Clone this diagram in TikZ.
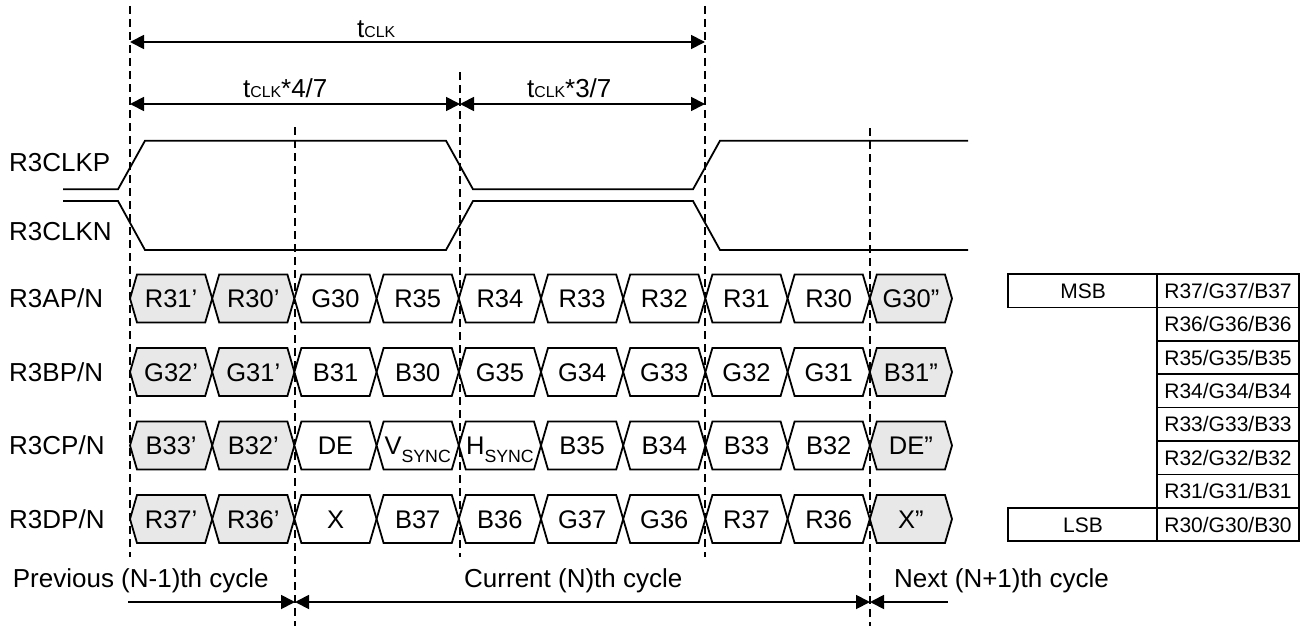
\documentclass[tikz,border=0pt]{standalone}
\usepackage{fontspec}
\setmainfont{Liberation Sans}
\usetikzlibrary{arrows.meta}
\definecolor{cellgrey}{RGB}{232,232,232}
\newcommand\subsz{\fontsize{15.8}{18}\selectfont}
\newcommand\syncsub{\raisebox{-7.6pt}{\fontsize{17.7}{20}\selectfont SYNC}}
\newcommand\drawrow[3]{% #1 row name, #2 centre y, #3 list of texts
  \foreach \t [count=\k from 0] in {#3} {
    \pgfmathsetmacro\xa{130+82.2*\k}
    \pgfmathsetmacro\xb{\xa+82.2}
    \pgfmathsetmacro\xc{\xa+41.1}
    \ifnum\k<2 \def\fc{cellgrey}\else\ifnum\k=9 \def\fc{cellgrey}\else\def\fc{white}\fi\fi
    \draw[cellsty, fill=\fc] (\xa,#2) -- (\xa+7,#2-24) -- (\xb-7,#2-24) -- (\xb,#2)
      -- (\xb-7,#2+24) -- (\xa+7,#2+24) -- cycle;
    \node[celltxt] (c#1\k) at (\xc,#2+9.3) {\t};
  }}
\begin{document}
\begin{tikzpicture}[x=1pt,y=-1pt,
  lbl/.style={font=\fontsize{26}{30}\selectfont, inner sep=0pt, anchor=base west},
  celltxt/.style={font=\fontsize{25.5}{30}\selectfont, inner sep=0pt, anchor=base},
  tbltxt/.style={font=\fontsize{21}{25}\selectfont, inner sep=0pt, anchor=base},
  sig/.style={line width=1.8pt, line join=miter},
  cellsty/.style={line width=1.8pt, line join=miter},
  vdash/.style={line width=1.8pt, dash pattern=on 8pt off 5pt},
  dimarrow/.style={line width=1.8pt},
  tip/.tip={Triangle[length=14pt,width=14pt]},
  tblline/.style={line width=1.5pt}
]
\useasboundingbox (0,0) rectangle (1311,626);

% dashed reference lines
\coordinate (v0t) at (130,6);   \coordinate (v0b) at (130,557);
\coordinate (v2t) at (295,127); \coordinate (v2b) at (295,626);
\coordinate (v4t) at (460,72);  \coordinate (v4b) at (460,557);
\coordinate (v7t) at (705,6);   \coordinate (v7b) at (705,557);
\coordinate (v9t) at (870,128); \coordinate (v9b) at (870,626);
\foreach \v in {0,2,4,7,9} \draw[vdash] (v\v t) -- (v\v b);

% top dimension arrows
\coordinate (t1l) at (130,42);  \coordinate (t1r) at (705,42);
\coordinate (t2l) at (130,104); \coordinate (t2m) at (460,104); \coordinate (t2r) at (705,104);
\draw[dimarrow, tip-tip] (t1l) -- (t1r);
\draw[dimarrow, tip-tip] (t2l) -- (t2m);
\draw[dimarrow, tip-tip] (t2m) -- (t2r);
\node[lbl] (ltclk) at (357,37.5) {t{\subsz CLK}};
\node[lbl] (lt47) at (243,97.5) {t{\subsz CLK}*4/7};
\node[lbl] (lt37) at (527,97.5) {t{\subsz CLK}*3/7};

% clock waveforms
\draw[sig] (63,189.3) -- (118,189.3) -- (145,140.7) -- (446,140.7) -- (473,189.3)
  -- (693,189.3) -- (720,140.7) -- (968,140.7);
\draw[sig] (63,201) -- (118,201) -- (145,250) -- (446,250) -- (473,201)
  -- (693,201) -- (720,250) -- (968,250);
\node[lbl] (lclkp) at (9,171.5) {R3CLKP};
\node[lbl] (lclkn) at (9,240) {R3CLKN};

% data rows
\node[lbl] (lrowa) at (9,307.8) {R3AP/N};
\node[lbl] (lrowb) at (9,381.3) {R3BP/N};
\node[lbl] (lrowc) at (9,454.8) {R3CP/N};
\node[lbl] (lrowd) at (9,528.3) {R3DP/N};
\drawrow{a}{298.5}{R31’,R30’,G30,R35,R34,R33,R32,R31,R30,G30”}
\drawrow{b}{372}{G32’,G31’,B31,B30,G35,G34,G33,G32,G31,B31”}
\drawrow{c}{445.5}{B33’,B32’,DE,V\syncsub,H\syncsub,B35,B34,B33,B32,DE”}
\drawrow{d}{519}{R37’,R36’,X,B37,B36,G37,G36,R37,R36,X”}

% bottom cycle arrows
\coordinate (b0) at (128,602); \coordinate (b1) at (295,602);
\coordinate (b2) at (870,602); \coordinate (b3) at (948,602);
\draw[dimarrow, -tip] (b0) -- (b1);
\draw[dimarrow, tip-tip] (b1) -- (b2);
\draw[dimarrow, tip-] (b2) -- (b3);
\node[lbl] (lprev) at (12.7,587) {Previous (N-1)th cycle};
\node[lbl] (lcur) at (464,587) {Current (N)th cycle};
\node[lbl] (lnext) at (894,587) {Next (N+1)th cycle};

% bit table
\foreach \i in {0,...,7}{
  \pgfmathsetmacro\ya{274+33.4*\i}
  \pgfmathsetmacro\yb{\ya+33.4}
  \pgfmathsetmacro\ym{\ya+16.7+7.5}
  \pgfmathtruncatemacro\bit{7-\i}
  \draw[tblline] (1157,\ya) rectangle (1299,\yb);
  \node[tbltxt] (tb\i) at (1228,\ym) {R3\bit/G3\bit/B3\bit};
}
\draw[tblline] (1008,274) rectangle (1157,307.4);
\draw[tblline] (1008,507.8) rectangle (1157,541.2);
\node[tbltxt] (tmsb) at (1083,298.2) {MSB};
\node[tbltxt] (tlsb) at (1083,532) {LSB};
\end{tikzpicture}
\end{document}
